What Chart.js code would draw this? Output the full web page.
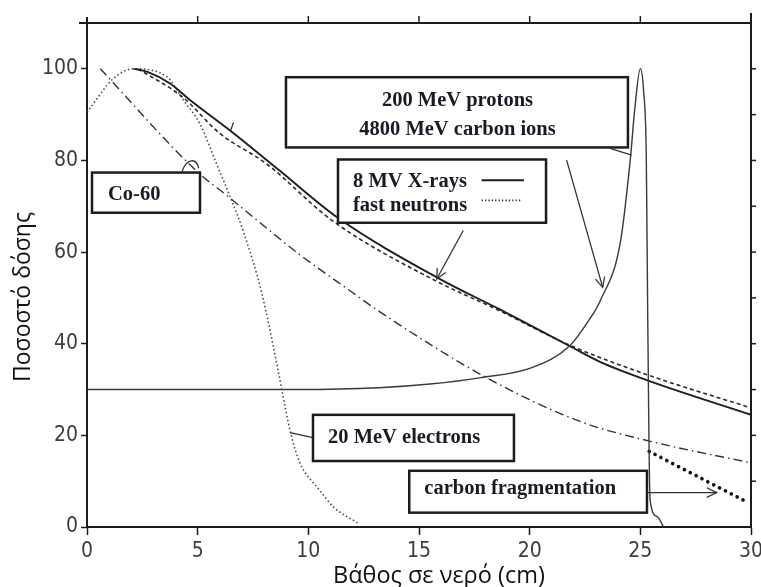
<!DOCTYPE html>
<html>
<head>
<meta charset="utf-8">
<script src="https://cdn.jsdelivr.net/npm/chart.js@4.4.1/dist/chart.umd.min.js"></script>
<style>
html,body{margin:0;padding:0;background:#fff;}
#wrap{width:761px;height:587px;position:relative;}
canvas{display:block;}
</style>
</head>
<body>
<div id="wrap"><canvas id="c" width="761" height="587"></canvas></div>
<script>
// ---- data (depth in cm, relative dose in %) ----
const xrayDepth = [2.1, 2.7, 3.75, 4.65, 6.45, 8.7, 11.3, 15.95, 18.65, 21.8, 23.2, 25.45, 30];
const xrayDose  = [100, 99.4, 96.8, 93.2, 86.6, 77.8, 67.6, 54.1, 47.5, 39.5, 36.0, 31.8, 24.5];

const neutronDepth = [2.3, 4.3, 6.0, 8.1, 11.1, 15.6, 18.6, 21.8, 25.45, 30];
const neutronDose  = [100, 93.9, 85.9, 79.3, 66.8, 54.1, 47.3, 39.7, 33.0, 26.0];

const cobaltDepth = [0.6, 4.97, 6.33, 9.6, 11.9, 13.25, 18.05, 22.3, 25.45, 30];
const cobaltDose  = [100, 77.6, 72.3, 59.5, 51.5, 46.9, 32.6, 23.0, 18.7, 14.0];

const electronDepth = [0, 1.2, 2.1, 3.6, 4.35, 5.1, 5.85, 6.6, 7.05, 7.9, 8.6, 8.8, 9.2, 9.62, 10.5, 11.13, 12.25];
const electronDose  = [90.5, 97.9, 100, 98.3, 93.2, 88.0, 79.3, 70.5, 64.7, 51.0, 35.0, 30.0, 20.5, 14.0, 8.1, 4.4, 0.8];

const protonDepth = [0, 9.5, 13.2, 15.5, 17.8, 20.1, 21.8, 22.7, 23.2, 24.1, 24.55, 24.75, 25.0, 25.15, 25.27, 25.33, 25.44, 25.75, 26.05];
const protonDose  = [30, 30, 30.4, 31.2, 32.6, 34.8, 39.5, 45.3, 49.5, 62.2, 80.4, 91.3, 100, 95, 80.4, 48, 5.9, 2.3, 0];

const fragDepth = [25.4, 29.8];
const fragDose  = [16.5, 5.5];

const xTickValues = [0, 5, 10, 15, 20, 25, 30];
const yTickValues = [0, 20, 40, 60, 80, 100];

const xTitle = 'Βάθος σε νερό (cm)';
const yTitle = 'Ποσοστό δόσης';
const labelProtons = '200 MeV protons';
const labelCarbon = '4800 MeV carbon ions';
const labelXray = '8 MV X-rays';
const labelNeutron = 'fast neutrons';
const labelCobalt = 'Co-60';
const labelElectron = '20 MeV electrons';
const labelFrag = 'carbon fragmentation';

function pts(xs, ys){ return xs.map((x,i)=>({x:x, y:ys[i]})); }

const INK = '#1c1c1c';

function arrowLine(ctx, x1, y1, x2, y2, head){
  ctx.beginPath(); ctx.moveTo(x1,y1); ctx.lineTo(x2,y2); ctx.stroke();
  if(head){
    const a = Math.atan2(y2-y1, x2-x1);
    ctx.beginPath();
    ctx.moveTo(x2 - head*Math.cos(a-0.45), y2 - head*Math.sin(a-0.45));
    ctx.lineTo(x2,y2);
    ctx.lineTo(x2 - head*Math.cos(a+0.45), y2 - head*Math.sin(a+0.45));
    ctx.stroke();
  }
}

function fitSize(ctx, text, family, weight, width){
  ctx.font = weight + ' 100px ' + family;
  return 100 * width / ctx.measureText(text).width;
}

const annotPlugin = {
  id: 'annot',
  afterDatasetsDraw(chart){
    const ctx = chart.ctx, xs = chart.scales.x, ys = chart.scales.y;
    const X = v => xs.getPixelForValue(v), Y = v => ys.getPixelForValue(v);
    const ca = chart.chartArea;
    ctx.save();

    // frame: top and right
    ctx.strokeStyle = INK; ctx.lineWidth = 2;
    ctx.beginPath(); ctx.moveTo(ca.left - 8, ca.top); ctx.lineTo(ca.right, ca.top); ctx.stroke();
    ctx.beginPath(); ctx.moveTo(ca.right, ca.top - 10); ctx.lineTo(ca.right, ca.bottom + 1); ctx.stroke();
    ctx.beginPath(); ctx.moveTo(ca.left, ca.top - 6); ctx.lineTo(ca.left, ca.top); ctx.stroke();
    ctx.lineWidth = 1.5;
    [5,10,15,20,25].forEach(v => { ctx.beginPath(); ctx.moveTo(X(v), ca.top); ctx.lineTo(X(v), ca.top - 7); ctx.stroke(); });
    [10,20,30,40,50,60,70,80,90,100].forEach(v => { ctx.beginPath(); ctx.moveTo(ca.right, Y(v)); ctx.lineTo(ca.right + 5, Y(v)); ctx.stroke(); });

    // boxes
    const box = (x0, x1, yt, yb) => {
      const l = X(x0), r = X(x1), t = Y(yt), b = Y(yb);
      ctx.fillStyle = '#fff'; ctx.fillRect(l, t, r-l, b-t);
      ctx.strokeStyle = INK; ctx.lineWidth = 2.5; ctx.strokeRect(l, t, r-l, b-t);
    };
    box(8.99, 24.44, 98.17, 82.84);
    box(11.34, 20.74, 80.21, 66.40);
    box(0.226, 5.105, 77.36, 68.59);
    box(10.21, 19.29, 24.48, 14.40);
    box(14.56, 25.30, 12.27, 3.13);

    // box texts
    ctx.fillStyle = '#1a1a26';
    ctx.font = 'bold 20.5px "Liberation Serif", "Times New Roman", serif';
    ctx.textBaseline = 'alphabetic';
    ctx.textAlign = 'center';
    ctx.fillText(labelProtons, X(16.74), Y(91.98));
    ctx.fillText(labelCarbon, X(16.74), Y(85.54));
    ctx.textAlign = 'left';
    ctx.fillText(labelXray, X(12.02), Y(74.2));
    ctx.fillText(labelNeutron, X(12.02), Y(68.9));
    ctx.fillText(labelCobalt, X(0.95), Y(71.3));
    ctx.fillText(labelElectron, X(10.89), Y(18.34));
    ctx.fillText(labelFrag, X(15.24), Y(7.23));

    // legend samples in the X-ray box
    ctx.strokeStyle = INK; ctx.lineWidth = 2;
    ctx.beginPath(); ctx.moveTo(X(17.83), Y(75.67)); ctx.lineTo(X(19.74), Y(75.67)); ctx.stroke();
    ctx.setLineDash([1.2, 2.2]); ctx.lineWidth = 1.6;
    ctx.beginPath(); ctx.moveTo(X(17.83), Y(71.29)); ctx.lineTo(X(19.63), Y(71.29)); ctx.stroke();
    ctx.setLineDash([]);

    // pointers and arrows
    ctx.strokeStyle = '#333'; ctx.lineWidth = 1.3;
    arrowLine(ctx, X(23.63), Y(82.62), X(24.61), Y(81.15), 0);
    arrowLine(ctx, X(21.67), Y(80.06), X(23.3), Y(52.31), 11);
    arrowLine(ctx, X(17.0), Y(64.72), X(15.8), Y(54.13), 11);
    arrowLine(ctx, X(10.21), Y(19.5), X(9.17), Y(20.6), 0);
    arrowLine(ctx, X(25.3), Y(7.52), X(28.45), Y(7.52), 11);
    // Co-60 hook
    ctx.beginPath();
    ctx.moveTo(X(4.28), Y(77.4));
    ctx.bezierCurveTo(X(4.5), Y(80.6), X(4.95), Y(80.6), X(5.05), Y(78.3));
    ctx.stroke();
    // small tick on the X-ray curve
    ctx.beginPath(); ctx.moveTo(X(6.48), Y(86.4)); ctx.lineTo(X(6.62), Y(88.3)); ctx.stroke();

    // axis titles
    ctx.fillStyle = '#111';
    const fam = '"Open Sans", "Noto Sans", sans-serif';
    let s = fitSize(ctx, xTitle, fam, 'normal', 212);
    ctx.font = 'normal ' + s.toFixed(2) + 'px ' + fam;
    ctx.textAlign = 'center'; ctx.textBaseline = 'alphabetic';
    ctx.fillText(xTitle, X(15.9), ca.bottom + 56);
    s = fitSize(ctx, yTitle, fam, 'normal', 170);
    ctx.font = 'normal ' + s.toFixed(2) + 'px ' + fam;
    ctx.translate(30, 297);
    ctx.rotate(-Math.PI/2);
    ctx.fillText(yTitle, 0, 0);
    ctx.restore();
  }
};

const tickFont = {family: '"DejaVu Sans Condensed", "Liberation Sans Narrow", sans-serif', size: 21};

new Chart(document.getElementById('c'), {
  type: 'line',
  data: {
    datasets: [
      {label: labelProtons, data: pts(protonDepth, protonDose), borderColor: '#3a3a3a', borderWidth: 1.4},
      {label: labelXray, data: pts(xrayDepth, xrayDose), borderColor: '#1e1e1e', borderWidth: 1.9},
      {label: labelNeutron, data: pts(neutronDepth, neutronDose), borderColor: '#2a2a2a', borderWidth: 1.6, borderDash: [4, 3]},
      {label: labelCobalt, data: pts(cobaltDepth, cobaltDose), borderColor: '#333', borderWidth: 1.4, borderDash: [9, 4, 1.5, 4]},
      {label: labelElectron, data: pts(electronDepth, electronDose), borderColor: '#4a4a4a', borderWidth: 1.6, borderDash: [1.5, 2.5]},
      {label: labelFrag, data: pts(fragDepth, fragDose), borderColor: '#111', borderWidth: 3.6, borderDash: [0.1, 6.5], borderCapStyle: 'round'}
    ]
  },
  options: {
    responsive: false,
    animation: false,
    devicePixelRatio: 1,
    layout: {padding: {top: 23, right: 10, left: 0, bottom: 0}},
    elements: {
      point: {radius: 0, hoverRadius: 0},
      line: {cubicInterpolationMode: 'monotone', fill: false}
    },
    plugins: {legend: {display: false}, tooltip: {enabled: false}},
    scales: {
      x: {
        type: 'linear', min: 0, max: 30,
        afterBuildTicks: s => { s.ticks = xTickValues.map(v => ({value: v})); },
        afterFit: s => { s.height = 60; s.paddingLeft = 0; s.paddingRight = 0; },
        ticks: {font: tickFont, color: '#3c3c3c', padding: 4, maxRotation: 0, autoSkip: false},
        grid: {display: true, drawOnChartArea: false, drawTicks: true, tickLength: 8, tickColor: INK, tickWidth: 1.5},
        border: {display: true, color: INK, width: 2}
      },
      y: {
        type: 'linear', min: 0, max: 110,
        afterBuildTicks: s => { s.ticks = yTickValues.map(v => ({value: v})); },
        afterFit: s => { s.width = 87; s.paddingTop = 0; s.paddingBottom = 0; },
        ticks: {font: tickFont, color: '#3c3c3c', padding: 3, autoSkip: false},
        grid: {display: true, drawOnChartArea: false, drawTicks: true, tickLength: 6, tickColor: INK, tickWidth: 1.5},
        border: {display: true, color: INK, width: 2}
      }
    }
  },
  plugins: [annotPlugin]
});
</script>
</body>
</html>
